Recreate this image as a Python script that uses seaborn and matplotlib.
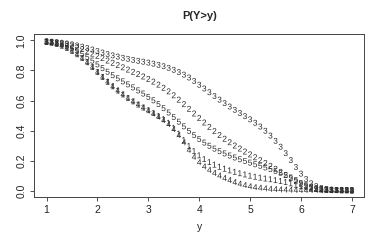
import numpy as np
import pandas as pd
import matplotlib
matplotlib.use("Agg")
import matplotlib.pyplot as plt
import seaborn as sns

sns.set_style("ticks")
plt.rcParams['font.family'] = ['Liberation Sans', 'DejaVu Sans']
plt.rcParams['mathtext.fontset'] = 'custom'
plt.rcParams['mathtext.rm'] = 'Liberation Sans'

# grid of y values (1 to 7 by 0.1)
y_grid = [1.0, 1.1, 1.2, 1.3, 1.4, 1.5, 1.6, 1.7, 1.8, 1.9,
          2.0, 2.1, 2.2, 2.3, 2.4, 2.5, 2.6, 2.7, 2.8, 2.9,
          3.0, 3.1, 3.2, 3.3, 3.4, 3.5, 3.6, 3.7, 3.8, 3.9,
          4.0, 4.1, 4.2, 4.3, 4.4, 4.5, 4.6, 4.7, 4.8, 4.9,
          5.0, 5.1, 5.2, 5.3, 5.4, 5.5, 5.6, 5.7, 5.8, 5.9,
          6.0, 6.1, 6.2, 6.3, 6.4, 6.5, 6.6, 6.7, 6.8, 6.9, 7.0]

# P(Y>y) for each of the five curves
p_curve1 = [0.990, 0.985, 0.976, 0.965, 0.950, 0.930, 0.908, 0.883, 0.855, 0.823,
            0.790, 0.757, 0.725, 0.695, 0.667, 0.641, 0.617, 0.595, 0.574, 0.554,
            0.536, 0.517, 0.497, 0.476, 0.452, 0.418, 0.380, 0.338, 0.298, 0.265,
            0.236, 0.211, 0.191, 0.174, 0.160, 0.147, 0.136, 0.126, 0.117, 0.109,
            0.101, 0.094, 0.088, 0.082, 0.077, 0.071, 0.065, 0.058, 0.050, 0.041,
            0.032, 0.024, 0.017, 0.012, 0.009, 0.007, 0.006, 0.005, 0.004, 0.004, 0.003]
p_curve2 = [0.992, 0.989, 0.985, 0.980, 0.973, 0.965, 0.955, 0.942, 0.927, 0.912,
            0.897, 0.882, 0.866, 0.851, 0.836, 0.821, 0.806, 0.791, 0.776, 0.760,
            0.744, 0.726, 0.706, 0.685, 0.661, 0.635, 0.606, 0.576, 0.545, 0.514,
            0.484, 0.454, 0.425, 0.397, 0.371, 0.346, 0.323, 0.301, 0.281, 0.261,
            0.242, 0.223, 0.204, 0.185, 0.166, 0.146, 0.126, 0.105, 0.084, 0.064,
            0.047, 0.033, 0.022, 0.015, 0.010, 0.008, 0.006, 0.005, 0.004, 0.004, 0.003]
p_curve3 = [0.993, 0.991, 0.988, 0.984, 0.979, 0.973, 0.966, 0.958, 0.949, 0.939,
            0.929, 0.919, 0.909, 0.900, 0.892, 0.884, 0.877, 0.870, 0.864, 0.858,
            0.852, 0.845, 0.837, 0.828, 0.817, 0.804, 0.789, 0.772, 0.753, 0.730,
            0.705, 0.680, 0.655, 0.630, 0.606, 0.583, 0.560, 0.538, 0.517, 0.496,
            0.475, 0.452, 0.427, 0.399, 0.367, 0.332, 0.293, 0.250, 0.204, 0.158,
            0.114, 0.078, 0.050, 0.031, 0.019, 0.012, 0.008, 0.006, 0.005, 0.004, 0.003]
p_curve4 = [0.990, 0.985, 0.976, 0.965, 0.950, 0.930, 0.908, 0.883, 0.855, 0.823,
            0.790, 0.757, 0.725, 0.695, 0.667, 0.641, 0.617, 0.595, 0.574, 0.554,
            0.534, 0.514, 0.493, 0.470, 0.443, 0.410, 0.370, 0.322, 0.272, 0.226,
            0.190, 0.162, 0.139, 0.119, 0.101, 0.085, 0.071, 0.058, 0.047, 0.038,
            0.030, 0.024, 0.020, 0.016, 0.013, 0.011, 0.009, 0.008, 0.007, 0.006,
            0.005, 0.005, 0.005, 0.004, 0.004, 0.004, 0.004, 0.003, 0.003, 0.003, 0.003]
p_curve5 = [0.991, 0.987, 0.981, 0.973, 0.962, 0.948, 0.931, 0.911, 0.889, 0.865,
            0.840, 0.815, 0.791, 0.768, 0.747, 0.727, 0.707, 0.687, 0.667, 0.646,
            0.624, 0.601, 0.576, 0.549, 0.520, 0.490, 0.459, 0.428, 0.398, 0.370,
            0.344, 0.320, 0.299, 0.280, 0.263, 0.248, 0.234, 0.221, 0.209, 0.198,
            0.187, 0.176, 0.166, 0.155, 0.144, 0.132, 0.119, 0.104, 0.088, 0.070,
            0.052, 0.036, 0.024, 0.016, 0.011, 0.008, 0.006, 0.005, 0.004, 0.004, 0.003]

curve_labels = ["1", "2", "3", "4", "5"]
x_ticks = [1, 2, 3, 4, 5, 6, 7]
y_ticks = [0.0, 0.2, 0.4, 0.6, 0.8, 1.0]
y_ticklabels = ["0.0", "0.2", "0.4", "0.6", "0.8", "1.0"]

# long table, curves in matplot order so later ones sit on top
parts = []
for lab, vals in zip(curve_labels, [p_curve1, p_curve2, p_curve3, p_curve4, p_curve5]):
    parts.append(pd.DataFrame({"y": y_grid, "p": vals, "curve": lab}))
df = pd.concat(parts, ignore_index=True)

fig, ax = plt.subplots(figsize=(3.82, 2.40), dpi=100)
fig.subplots_adjust(left=0.0898, right=0.953, top=0.857, bottom=0.180)

sns.scatterplot(data=df, x="y", y="p", style="curve",
                markers={l: "$\\mathrm{%s}$" % l for l in curve_labels},
                color="#2a2a2a", s=18, linewidth=0, legend=False, ax=ax)

ax.set_xlim(0.76, 7.24)
ax.set_ylim(-0.04, 1.04)
ax.set_xticks(x_ticks)
ax.set_xticklabels([str(t) for t in x_ticks])
ax.set_yticks(y_ticks)
ax.set_yticklabels(y_ticklabels, rotation=90, va="center")
ax.tick_params(direction="out", length=2.6, width=0.6, labelsize=7.5, pad=3,
               color="#333333", labelcolor="#222222")
for sp in ax.spines.values():
    sp.set_linewidth(0.7)
    sp.set_color("#444444")

ax.set_xlabel("y", fontsize=7.5, labelpad=5)
ax.set_ylabel("")
ax.set_title("P(Y>y)", fontsize=8, fontweight="bold", pad=11)

fig.savefig("out.png", dpi=100)
